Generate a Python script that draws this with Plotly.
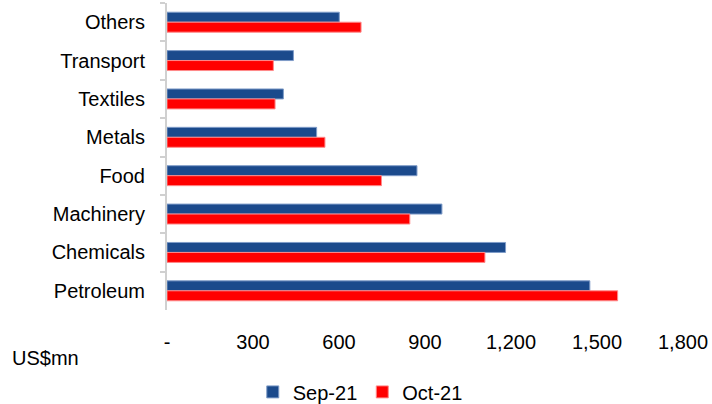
import plotly.graph_objects as go

# Exports by product group, US$ mn
categories = ["Others", "Transport", "Textiles", "Metals", "Food",
              "Machinery", "Chemicals", "Petroleum"]
sep21 = [601, 441, 406, 522, 872, 959, 1181, 1475]
oct21 = [677, 371, 377, 551, 748, 847, 1109, 1572]

tick_vals = [0, 300, 600, 900, 1200, 1500, 1800]
tick_text = ["-", "300", "600", "900", "1,200", "1,500", "1,800"]

FONT = "Liberation Sans, Arial, sans-serif"

fig = go.Figure()
fig.add_trace(go.Bar(
    y=categories, x=sep21, name="Sep-21", orientation="h",
    marker=dict(color="#1B4A8C", line=dict(color="#7F9CC8", width=1)),
))
fig.add_trace(go.Bar(
    y=categories, x=oct21, name="Oct-21", orientation="h",
    marker=dict(color="#FF0000", line=dict(color="#FF8A8A", width=1)),
))

fig.update_layout(
    width=712, height=404,
    margin=dict(l=167, r=29, t=3, b=94, autoexpand=False),
    paper_bgcolor="white", plot_bgcolor="white",
    barmode="group", bargap=0.48, bargroupgap=0,
    font=dict(family=FONT, size=20, color="#000000"),
    showlegend=True,
    legend=dict(orientation="h", xref="container", x=0.506, xanchor="center",
                yref="container", y=0.03, yanchor="middle",
                font=dict(size=20), itemwidth=30, traceorder="normal"),
    xaxis=dict(range=[0, 1800], tickvals=tick_vals, ticktext=tick_text,
               showgrid=False, zeroline=False, showline=False,
               ticks="", ticklabelstandoff=18),
    yaxis=dict(autorange="reversed", showgrid=False, zeroline=False,
               showline=True, linecolor="#D0D0D0", linewidth=2,
               ticks="outside", ticklen=5, tickcolor="#D0D0D0", tickwidth=2,
               tickson="boundaries", ticklabelstandoff=16),
    annotations=[dict(text="US$mn", xref="paper", yref="paper",
                      x=-0.304, y=-0.156, xanchor="left", yanchor="middle",
                      showarrow=False, font=dict(size=20))],
)

fig.write_html("out.html")
